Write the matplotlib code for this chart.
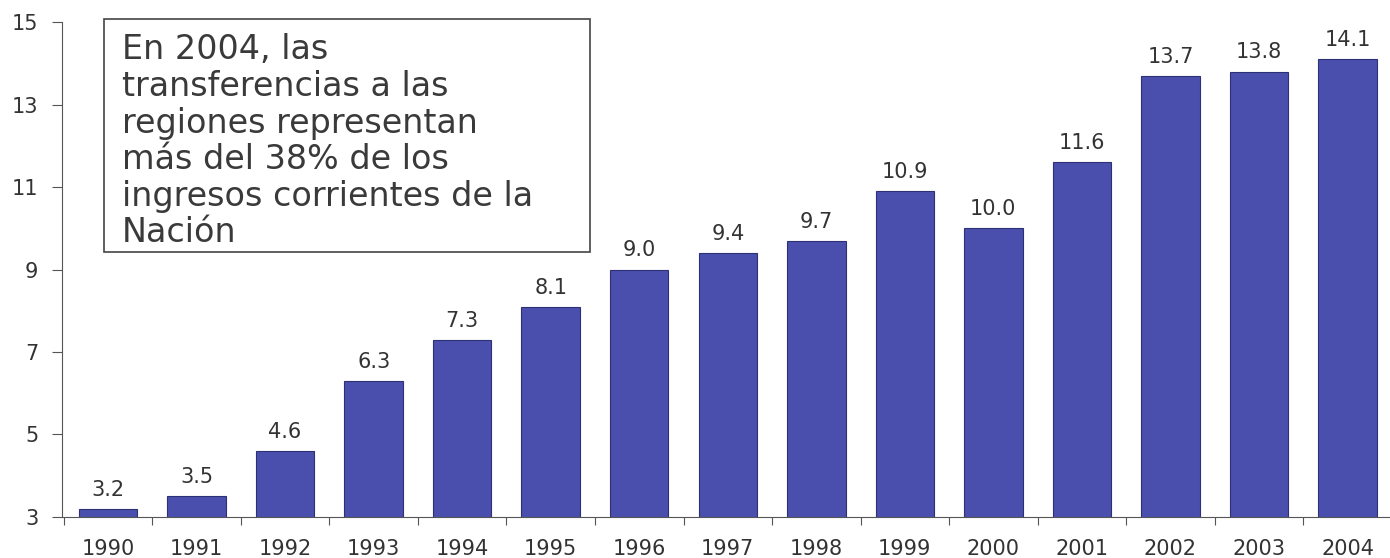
import numpy as np
import matplotlib.pyplot as plt
from matplotlib.patches import Rectangle

years = ['1990', '1991', '1992', '1993', '1994', '1995', '1996', '1997',
         '1998', '1999', '2000', '2001', '2002', '2003', '2004']
values = [3.2, 3.5, 4.6, 6.3, 7.3, 8.1, 9.0, 9.4, 9.7, 10.9, 10.0, 11.6, 13.7, 13.8, 14.1]
note = ('En 2004, las\ntransferencias a las\nregiones representan\n'
        'más del 38% de los\ningresos corrientes de la\nNación')

bar_color = '#4a4fad'
text_color = '#333333'

fig = plt.figure(figsize=(13.9, 5.58), dpi=100)
ax = fig.add_axes([0.0446, 0.0735, 0.9554, 0.887])

x = np.arange(len(years))
ax.bar(x, values, width=0.66, bottom=0, color=bar_color,
       edgecolor='#2d3075', linewidth=0.8, zorder=2)

for xi, v in zip(x, values):
    ax.text(xi, v + 0.22, f'{v:.1f}', ha='center', va='bottom',
            fontsize=15, color=text_color)

ax.set_ylim(3, 15)
ax.set_xlim(-0.52, 14.48)
ax.set_yticks([3, 5, 7, 9, 11, 13, 15])
ax.set_xticks(x)
ax.set_xticklabels(years)
ax.set_xticks(np.arange(len(years)) - 0.5, minor=True)

ax.tick_params(axis='y', direction='out', length=7, width=0.8, color='#555555',
               labelsize=15, labelcolor=text_color, pad=10)
ax.tick_params(axis='x', which='major', length=0, labelsize=15,
               labelcolor=text_color, pad=16)
ax.tick_params(axis='x', which='minor', direction='out', length=6,
               width=0.8, color='#555555')

for s in ['top', 'right']:
    ax.spines[s].set_visible(False)
ax.spines['left'].set_color('#555555')
ax.spines['bottom'].set_color('#555555')

# annotation box
fig.patches.append(Rectangle((0.0748, 0.548), 0.3496, 0.4176,
                             transform=fig.transFigure, facecolor='white',
                             edgecolor='#444444', linewidth=1.2, zorder=5))
fig.text(0.0878, 0.94, note, ha='left', va='top', fontsize=24,
         color='#3a3a3a', linespacing=1.135, zorder=6)

fig.savefig('out.png', dpi=100)
